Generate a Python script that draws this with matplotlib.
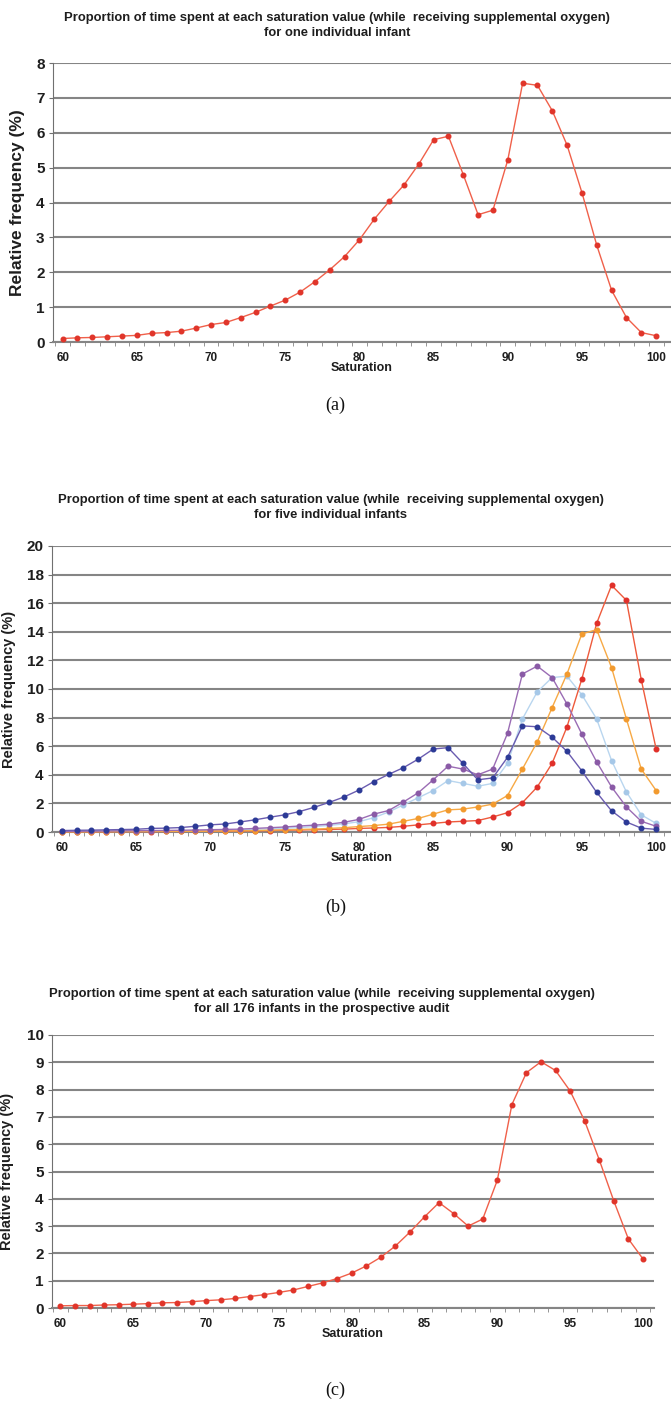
#!/usr/bin/env python3
"""
Saturation histograms (three stacked panels).
Relative frequency of time spent at each SpO2 value while on oxygen.
"""

import matplotlib
matplotlib.use('Agg')
import matplotlib.pyplot as plt
from matplotlib.ticker import MultipleLocator

plt.rcParams['font.family'] = ['Liberation Sans', 'DejaVu Sans']

# Saturation values (categories)
saturation = list(range(60, 101))

# (a) one infant
one_infant = [0.10, 0.12, 0.13, 0.15, 0.17, 0.19, 0.25, 0.27, 0.31, 0.40,
              0.50, 0.56, 0.70, 0.85, 1.03, 1.20, 1.43, 1.73, 2.07, 2.45,
              2.93, 3.52, 4.03, 4.50, 5.10, 5.80, 5.90, 4.80, 3.65, 3.78,
              5.22, 7.42, 7.36, 6.63, 5.64, 4.28, 2.77, 1.48, 0.70, 0.27,
              0.18]

# (b) five infants
infant_blue = one_infant
infant_purple = [0.05, 0.05, 0.06, 0.07, 0.08, 0.09, 0.10, 0.11, 0.12, 0.14,
                 0.16, 0.18, 0.20, 0.25, 0.30, 0.35, 0.42, 0.48, 0.55, 0.68,
                 0.88, 1.25, 1.50, 2.10, 2.75, 3.65, 4.60, 4.40, 4.00, 4.40,
                 6.90, 11.05, 11.60, 10.80, 8.95, 6.85, 4.90, 3.15, 1.75, 0.75,
                 0.40]
infant_lightblue = [0.03, 0.03, 0.04, 0.05, 0.05, 0.06, 0.07, 0.08, 0.09, 0.10,
                    0.12, 0.14, 0.16, 0.19, 0.22, 0.26, 0.31, 0.38, 0.46, 0.57,
                    0.72, 1.00, 1.40, 1.90, 2.40, 2.90, 3.60, 3.40, 3.20, 3.40,
                    4.80, 7.90, 9.80, 10.80, 10.90, 9.60, 7.90, 5.00, 2.80, 1.20,
                    0.60]
infant_orange = [0.02, 0.02, 0.02, 0.03, 0.03, 0.03, 0.04, 0.04, 0.05, 0.05,
                 0.06, 0.07, 0.08, 0.10, 0.12, 0.15, 0.18, 0.20, 0.25, 0.30,
                 0.38, 0.45, 0.55, 0.75, 0.95, 1.25, 1.55, 1.60, 1.75, 1.95,
                 2.55, 4.40, 6.30, 8.70, 11.05, 13.85, 14.15, 11.50, 7.90, 4.40,
                 2.90]
infant_red = [0.02, 0.02, 0.02, 0.02, 0.03, 0.03, 0.03, 0.04, 0.04, 0.05,
              0.05, 0.06, 0.07, 0.08, 0.10, 0.12, 0.14, 0.16, 0.18, 0.20,
              0.25, 0.28, 0.32, 0.40, 0.50, 0.60, 0.70, 0.75, 0.80, 1.05,
              1.35, 2.05, 3.15, 4.80, 7.35, 10.70, 14.60, 17.25, 16.20, 10.65,
              5.80]

# (c) all 176 infants
all_infants = [0.08, 0.09, 0.09, 0.11, 0.12, 0.14, 0.16, 0.19, 0.20, 0.23,
               0.27, 0.30, 0.35, 0.42, 0.49, 0.57, 0.66, 0.79, 0.92, 1.08,
               1.28, 1.54, 1.86, 2.27, 2.78, 3.34, 3.86, 3.46, 3.00, 3.26,
               4.68, 7.45, 8.62, 9.02, 8.70, 7.95, 6.85, 5.43, 3.92, 2.53,
               1.80]

TITLE_1 = 'Proportion of time spent at each saturation value (while  receiving supplemental oxygen)'
TITLES = ['for one individual infant',
          'for five individual infants',
          'for all 176 infants in the prospective audit']

W, H = 671, 1401
GRID = '#858585'
TEXT = '#1e1e1e'


def px_axes(fig, left, top, right, bottom):
    """Add axes from pixel edges"""
    return fig.add_axes([left / W, 1 - bottom / H, (right - left) / W, (bottom - top) / H])


def style_axes(ax, ymax, ystep, xlim, ylabel_x, ylabel_size):
    ax.set_xlim(*xlim)
    ax.set_ylim(0, ymax)
    ax.yaxis.set_major_locator(MultipleLocator(ystep))
    ax.set_xticks(range(60, 101, 5))
    ax.set_xticks([s + 0.5 for s in range(59, 101)], minor=True)
    ax.grid(axis='y', color=GRID, linewidth=1.5, zorder=0)
    ax.set_axisbelow(True)
    for side in ['top', 'right']:
        ax.spines[side].set_visible(False)
    ax.spines['left'].set_color('#707070')
    ax.spines['bottom'].set_color(GRID)
    ax.spines['bottom'].set_linewidth(1.5)
    ax.tick_params(axis='y', length=3, color='#707070', pad=3)
    ax.tick_params(axis='x', which='major', length=0, pad=7)
    ax.tick_params(axis='x', which='minor', length=3, color=GRID)
    for lab in ax.get_yticklabels():
        lab.set(fontweight='bold', color=TEXT, fontsize=11)
    for lab in ax.get_xticklabels():
        lab.set(fontweight='bold', color=TEXT, fontsize=8.5)
    ax.set_xlabel('Saturation', fontsize=9, fontweight='bold', labelpad=-1,
                  color=TEXT)
    ax.set_ylabel('Relative frequency (%)', fontsize=ylabel_size,
                  fontweight='bold', color=TEXT)
    ax.yaxis.set_label_coords(ylabel_x, 0.5)


def add_title(fig, line2, y1, xc):
    for k, txt in enumerate([TITLE_1, line2]):
        fig.text(xc / W, 1 - (y1 + 15 * k) / H, txt, ha='center', va='center',
                 fontsize=9.4, fontweight='bold', color=TEXT)


def add_caption(fig, txt, y):
    fig.text(0.5, 1 - y / H, txt, ha='center', va='center',
             fontsize=13, family='Liberation Serif', color='#111111')


def series(ax, y, line_color, marker_color, z=3):
    ax.plot(saturation, y, color=line_color, linewidth=1.0, marker='o',
            markersize=3.3, markerfacecolor=marker_color,
            markeredgecolor=marker_color, zorder=z, clip_on=False)


def main():
    fig = plt.figure(figsize=(W / 100, H / 100), dpi=100)
    fig.patch.set_facecolor('white')

    # (a)
    add_title(fig, TITLES[0], 18, 337)
    ax_a = px_axes(fig, 53, 63, 671, 342)
    style_axes(ax_a, 8, 1, (59.35, 101.0), -0.045, 12.5)
    series(ax_a, one_infant, '#f0604a', '#e0352a')
    add_caption(fig, '(a)', 405)

    # (b)
    add_title(fig, TITLES[1], 500, 331)
    ax_b = px_axes(fig, 52, 546, 671, 832)
    style_axes(ax_b, 20, 2, (59.35, 101.0), -0.058, 10.5)
    series(ax_b, infant_lightblue, '#b9d6ef', '#a6c8e8', z=2)
    series(ax_b, infant_red, '#ee5a3c', '#e0302a', z=3)
    series(ax_b, infant_orange, '#f7a945', '#f29a2e', z=4)
    series(ax_b, infant_purple, '#9a6cb4', '#8a5aa6', z=5)
    series(ax_b, infant_blue, '#6a5cb0', '#2c3a96', z=6)
    add_caption(fig, '(b)', 907)

    # (c)
    add_title(fig, TITLES[2], 994, 322)
    ax_c = px_axes(fig, 52, 1035, 654, 1308)
    style_axes(ax_c, 10, 1, (59.42, 100.76), -0.063, 10.5)
    series(ax_c, all_infants, '#f0604a', '#e0352a')
    add_caption(fig, '(c)', 1390)

    fig.savefig('out.png', dpi=100)
    plt.close(fig)


if __name__ == "__main__":
    main()
